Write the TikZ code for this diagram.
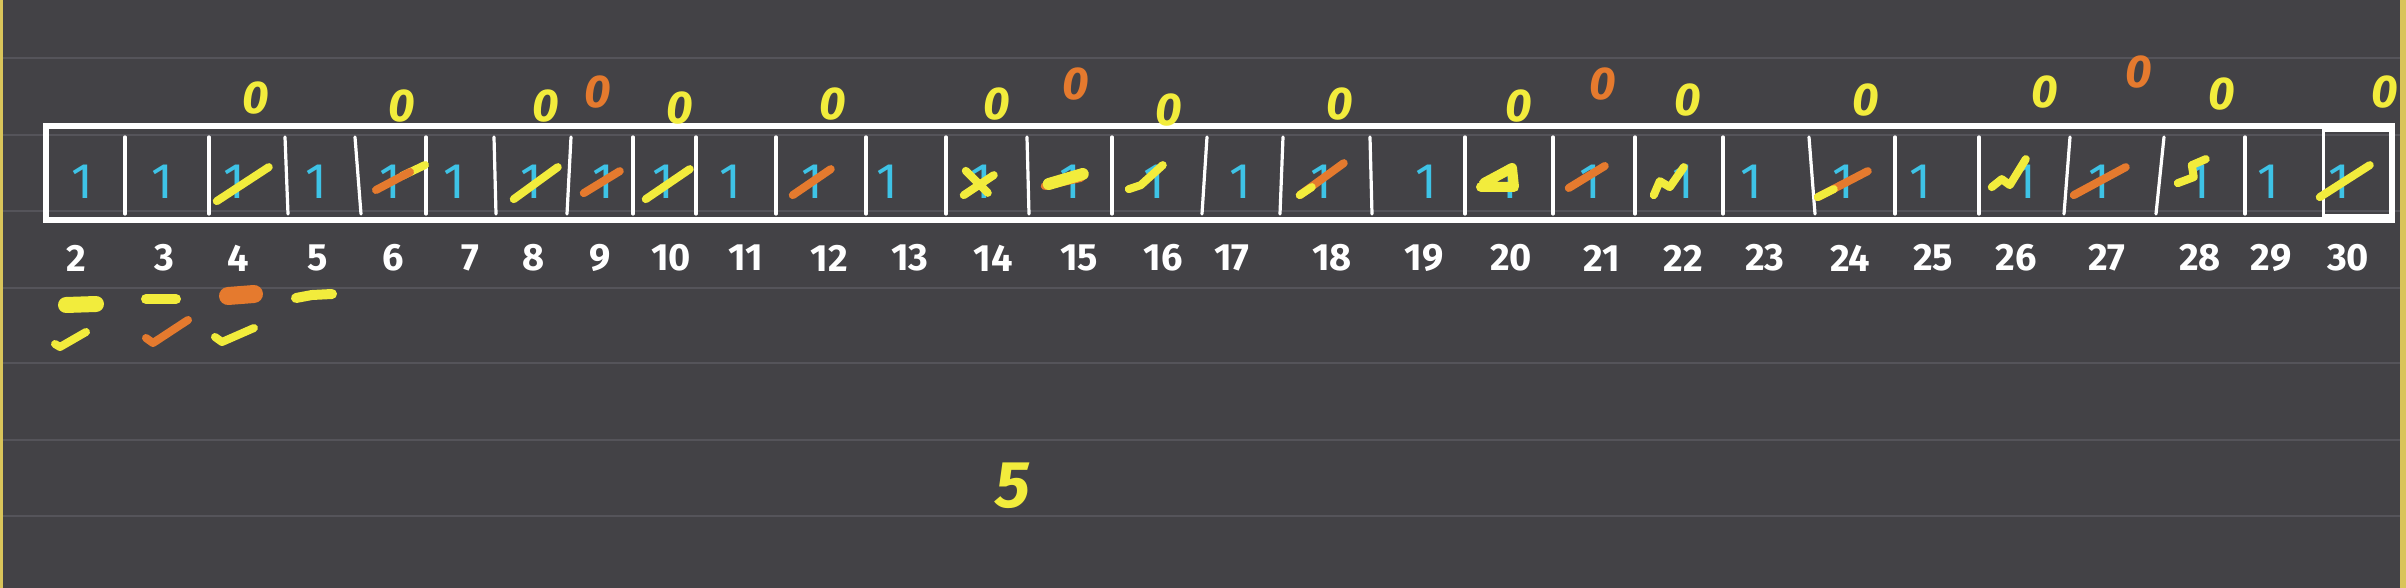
\documentclass[tikz,border=0pt]{standalone}
\usepackage{fontspec}
\setmainfont{Fira Sans}
\definecolor{bg}{HTML}{434246}
\definecolor{rulegray}{HTML}{55545A}
\definecolor{hy}{HTML}{F2EC3C}
\definecolor{ho}{HTML}{E57A2E}
\definecolor{hc}{HTML}{3EC3E6}
\definecolor{edgey}{HTML}{D9C45A}
\begin{document}
\begin{tikzpicture}[x=0.5pt,y=-0.5pt,
  lbl/.style={text=white,font=\fontsize{19}{19}\selectfont\bfseries,inner sep=0},
  one/.style={text=hc,font=\fontsize{25}{25}\selectfont,inner sep=0},
  zy/.style={text=hy,font=\fontsize{23}{23}\selectfont\bfseries\itshape,inner sep=0},
  zo/.style={text=ho,font=\fontsize{23}{23}\selectfont\bfseries\itshape,inner sep=0},
  box/.style={draw=white,line width=3pt},
  divider/.style={draw=white,line width=1.6pt,line cap=round},
  crossy/.style={draw=hy,line width=4pt,line cap=round,line join=round},
  crosso/.style={draw=ho,line width=4pt,line cap=round,line join=round},
  tally/.style={line width=5pt,line cap=round,line join=round},
]
\fill[bg] (0,0) rectangle (2406,588);
\useasboundingbox (0,0) rectangle (2406,588);
% ruled lines
\foreach \yy in {58,135,211,288,363,440,516}
  \draw[rulegray,line width=1pt] (0,\yy) -- (2406,\yy);
% yellow page edges
\fill[edgey] (0,0) rectangle (3,588);
\fill[edgey] (2400,0) rectangle (2406,588);
% array box
\draw[box] (46,126) rectangle (2392,220);
\draw[white,line width=1.5pt] (2323,131) rectangle (2390,216);
% dividers
\foreach \xx/\ta/\tb in {125/0/0,209/0/0,288/-3/0,357/-2/4,426/0/0,495/-1/1,569/2/-2,633/0/0,696/0/0,776/0/0,
  866/0/0,946/0/0,1028/-1/1,1112/0/0,1205/2/-3,1282/1/-2,1371/-1/1,1465/0/0,1553/0/0,
  1635/0/0,1723/0/0,1812/-3/3,1895/0/0,1979/0/0,2067/3/-3,2160/4/-4,2245/0/0}
  \draw[divider] (\xx+\ta,137) -- (\xx+\tb,214);
% cyan ones
\foreach \n/\xx in {2/82,3/162,4/234,5/316,6/390,7/454,8/531,9/603,10/663,11/730,
  12/812,13/887,14/981,15/1070,16/1154,17/1240,18/1321,19/1426,20/1507,
  21/1590,22/1683,23/1751,24/1843,25/1920,26/2025,27/2099,28/2199,29/2268,30/2339}
  \node[one] (c\n) at (\xx,182) {1};
% cross-outs
\draw[crossy] (c4.south west) ++(-6,2) -- ++(52,-34);
\draw[crossy] (402,176) -- (425,165);
\draw[crosso] (376,190) -- (410,172);
\draw[crossy] (c8.south west) ++(-6,0) -- ++(44,-32);
\draw[crosso] (c9.south west) ++(-8,-6) -- ++(36,-22);
\draw[crossy] (c10.south west) ++(-6,0) -- ++(44,-30);
\draw[crosso] (c12.south west) ++(-8,-4) -- ++(38,-26);
\draw[crossy] (c14.south west) ++(-6,-4) -- ++(30,-20);
\draw[crossy] (c14.north west) ++(-4,6) -- ++(22,22);
\draw[crosso] (c15.west) ++(-14,4) -- ++(36,-8);
\draw[crossy,line width=6pt] (c15.west) ++(-10,2) -- ++(34,-10);
\draw[crossy] (c16.south west) ++(-14,-10) -- ++(12,-4) -- ++(22,-20);
\draw[crosso] (c18.south west) ++(-10,-4) -- ++(44,-32);
\draw[crossy] (c18.south west) ++(-10,-4) -- ++(12,-8);
\draw[crossy,line width=5pt] (1481,187) -- (1514,187) -- (1512,168) -- (1484,183);
\draw[crosso] (c21.west) ++(-10,6) -- ++(36,-22);
\draw[crossy] (c22.south west) ++(-18,-4) -- ++(6,-14) -- ++(10,6) -- ++(14,-20);
\draw[crosso] (c24.south west) ++(-14,-2) -- ++(50,-26);
\draw[crossy] (c24.south west) ++(-14,-2) -- ++(16,-8);
\draw[crossy] (c26.south west) ++(-22,-12) -- ++(10,-8) -- ++(8,6) -- ++(16,-26);
\draw[crosso] (c27.south west) ++(-14,-4) -- ++(52,-28);
\draw[crossy] (c28.south west) ++(-10,-16) -- ++(16,-6) -- ++(-2,-12) -- ++(14,-6);
\draw[crossy] (c30.south west) ++(-8,-2) -- ++(50,-32);
% index labels
\foreach \n/\xx in {2/76,3/164,4/238,5/318,6/393,7/470,8/534,9/600,10/671,11/746,
  12/829,13/910,14/993,15/1079,16/1163,17/1232,18/1332,19/1424,20/1511,
  21/1602,22/1683,23/1765,24/1850,25/1933,26/2016,27/2107,28/2200,29/2271,30/2348}
  \node[lbl] (n\n) at (\xx,258) {\n};
% zeros above
\foreach \n/\xx/\yy in {4/256/98,6/402/106,8/546/106,10/680/108,12/833/104,14/997/104,
  16/1169/110,18/1340/104,20/1519/106,22/1688/100,24/1866/100,26/2045/92,28/2222/94,30/2385/92}
  \node[zy] (z\n) at (\xx,\yy) {0};
\foreach \n/\xx/\yy in {9/598/92,15/1076/84,21/1603/84,27/2139/72}
  \node[zo] (z\n) at (\xx,\yy) {0};
% marks below the primes
\draw[hy,tally,line width=8pt] (66,305) -- (96,304);
\draw[hy,tally] (146,299) -- (176,299);
\draw[ho,tally,line width=9pt] (228,296) -- (254,294);
\draw[hy,tally] (296,298) -- (312,295) -- (332,294);
\draw[hy,tally,line width=4pt] (55,344) -- (60,347) -- (86,332);
\draw[ho,tally,line width=4pt] (146,338) -- (153,343) -- (188,320);
\draw[hy,tally,line width=4pt] (215,337) -- (222,342) -- (254,328);
% the 5 below
\node[text=hy,font=\fontsize{33}{33}\selectfont\bfseries\itshape,inner sep=0] (five) at (1013,486) {5};
\end{tikzpicture}
\end{document}
